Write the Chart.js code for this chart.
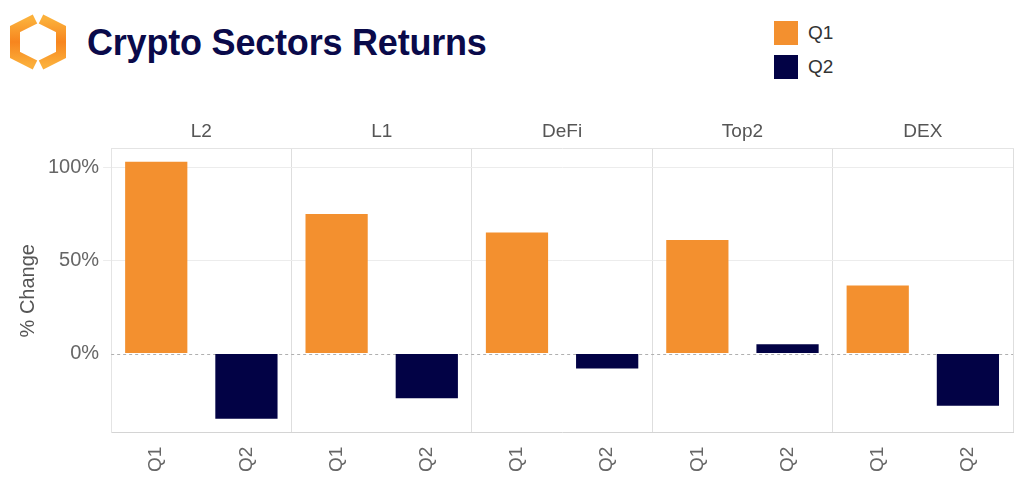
<!DOCTYPE html>
<html>
<head>
<meta charset="utf-8">
<script src="https://cdn.jsdelivr.net/npm/chart.js@4/dist/chart.umd.min.js"></script>
<style>
  body { margin: 0; background: #fff; font-family: "Liberation Sans", Arial, sans-serif; }
  #wrap { position: relative; width: 1020px; height: 480px; }
  #logo { position: absolute; left: 6px; top: 12px; }
  #title { position: absolute; left: 87px; top: 22px; font-size: 36px; font-weight: bold; color: #0a0a4a; letter-spacing: -0.2px; }
  .leg { position: absolute; left: 774px; width: 24px; height: 24px; }
  .legtxt { position: absolute; left: 808px; font-size: 19px; color: #333; }
  canvas { position: absolute; left: 0; top: 0; }
</style>
</head>
<body>
<div id="wrap">
  <svg id="logo" width="62" height="62" viewBox="0 0 62 62">
    <defs>
      <linearGradient id="g1" x1="0" y1="0" x2="0" y2="1">
        <stop offset="0" stop-color="#fbb03b"/>
        <stop offset="0.5" stop-color="#f7851e"/>
        <stop offset="1" stop-color="#fbae3a"/>
      </linearGradient>
    </defs>
    <polyline points="29,7 9,17 9,43 29,53" fill="none" stroke="url(#g1)" stroke-width="10" stroke-linejoin="miter"/>
    <polyline points="35,7 55,17 55,43 35,53" fill="none" stroke="url(#g1)" stroke-width="10" stroke-linejoin="miter"/>
  </svg>
  <div id="title">Crypto Sectors Returns</div>
  <div class="leg" style="top:21px;background:#f3902f"></div>
  <div class="legtxt" style="top:22px">Q1</div>
  <div class="leg" style="top:55px;background:#020245"></div>
  <div class="legtxt" style="top:56px">Q2</div>
  <canvas id="chart" width="1020" height="480"></canvas>
</div>
<script>
// values (% change)
var sectors = ['L2', 'L1', 'DeFi', 'Top2', 'DEX'];
var quarters = ['Q1', 'Q2'];
var q1Values = [103, 75, 65, 61, 36.5];
var q2Values = [-35, -24, -8, 5, -28];
var yTicks = [0, 50, 100];

var xLabels = sectors.flatMap(function() { return quarters; });
var q1Data = q1Values.flatMap(function(v) { return [v, null]; });
var q2Data = q2Values.flatMap(function(v) { return [null, v]; });

var zeroLine = {
  id: 'zeroLine',
  beforeDatasetsDraw: function(chart) {
    var ctx = chart.ctx;
    var y = chart.scales.y.getPixelForValue(0);
    ctx.save();
    ctx.strokeStyle = '#b0b0b0';
    ctx.lineWidth = 1;
    ctx.setLineDash([3, 3]);
    ctx.beginPath();
    ctx.moveTo(chart.chartArea.left, Math.round(y) + 0.5);
    ctx.lineTo(chart.chartArea.right, Math.round(y) + 0.5);
    ctx.stroke();
    ctx.restore();
  }
};

var font = "'Liberation Sans', Arial, sans-serif";

new Chart(document.getElementById('chart'), {
  type: 'bar',
  data: {
    labels: xLabels,
    datasets: [
      { label: 'Q1', data: q1Data, backgroundColor: '#f3902f', grouped: false, categoryPercentage: 1, barPercentage: 0.69 },
      { label: 'Q2', data: q2Data, backgroundColor: '#020245', grouped: false, categoryPercentage: 1, barPercentage: 0.69 }
    ]
  },
  options: {
    responsive: false,
    animation: false,
    layout: { padding: { top: 114, right: 7, bottom: 2, left: 12 } },
    plugins: { legend: { display: false }, tooltip: { enabled: false } },
    scales: {
      x: {
        position: 'bottom',
        grid: { display: false },
        border: { color: '#d4d4d4' },
        ticks: { minRotation: 90, maxRotation: 90, color: '#666', padding: 6, font: { family: font, size: 19 } }
      },
      x2: {
        axis: 'x',
        type: 'category',
        position: 'top',
        labels: sectors,
        offset: true,
        grid: { offset: true, color: '#dedede', drawTicks: false },
        border: { color: '#e4e4e4' },
        ticks: { color: '#555', padding: 6, font: { family: font, size: 19 } }
      },
      y: {
        min: -42.5,
        max: 110,
        afterBuildTicks: function(scale) {
          scale.ticks = yTicks.map(function(v) { return { value: v }; });
        },
        grid: {
          color: function(c) { return c.tick && c.tick.value === 0 ? 'rgba(0,0,0,0)' : '#ececec'; },
          tickLength: 8
        },
        border: { color: '#e4e4e4' },
        title: { display: true, text: '% Change', color: '#555', padding: { bottom: 4 }, font: { family: font, size: 20 } },
        ticks: {
          color: '#666',
          padding: 4,
          font: { family: font, size: 20 },
          callback: function(v) { return v + '%'; }
        }
      }
    }
  },
  plugins: [zeroLine]
});
</script>
</body>
</html>
